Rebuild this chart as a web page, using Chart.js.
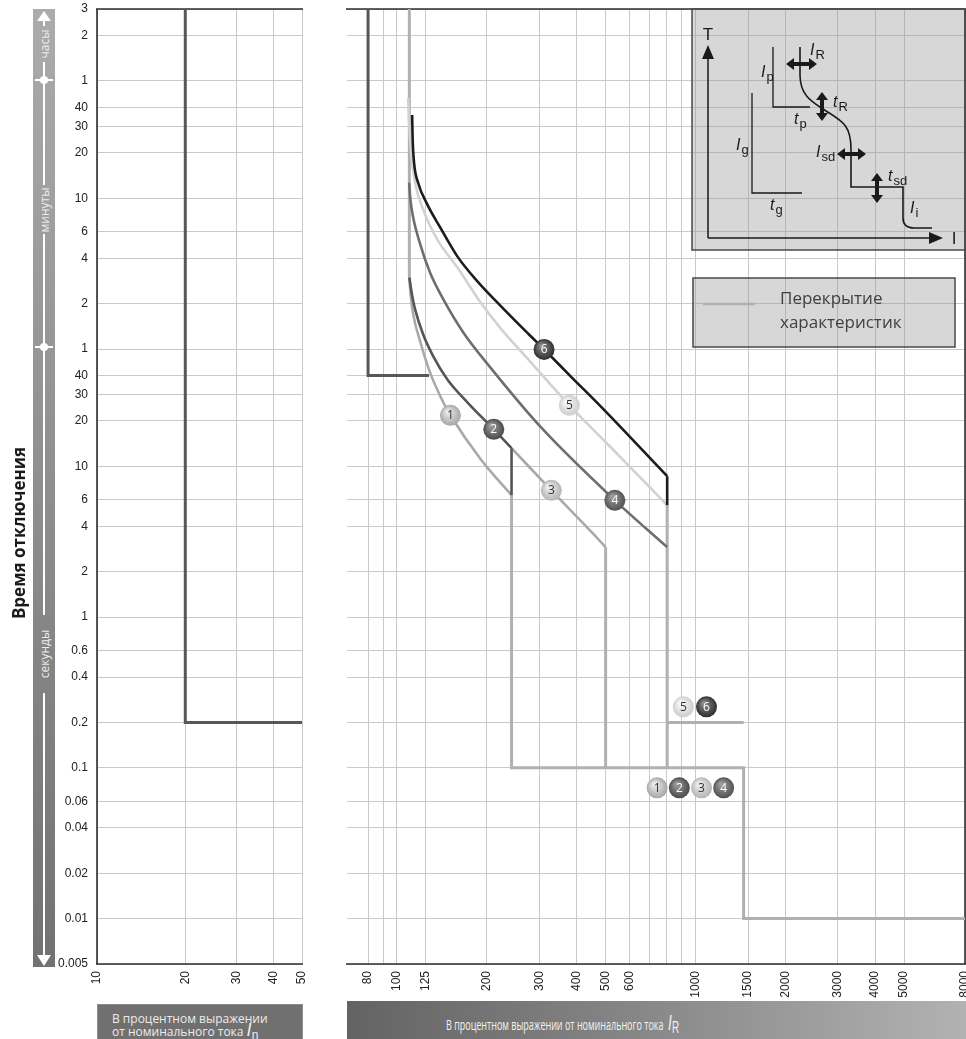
<!DOCTYPE html>
<html>
<head>
<meta charset="utf-8">
<script src="https://cdn.jsdelivr.net/npm/chart.js@4.4.1/dist/chart.umd.min.js"></script>
<style>
html, body { margin: 0; padding: 0; background: #fff; overflow: hidden; width: 966px; height: 1039px; }
#wrap { position: relative; width: 966px; height: 1039px; overflow: hidden; }
.box { position: absolute; top: 0; height: 1000px; }
#leftBox { left: 0; width: 310px; }
#rightBox { left: 310px; width: 670px; }
#band { position: absolute; left: 0; top: 0; }
#bannerLeft { position: absolute; left: 97px; top: 1004px; width: 206px; height: 40px; background: #707070; box-shadow: inset 0 0 0 1px #8c8c8c; }
#bannerLeft .txt { position: absolute; left: 15px; top: 8px; font: 12px/13px 'Open Sans', sans-serif; color: #ececec; white-space: nowrap; }
#bannerRight { position: absolute; left: 347px; top: 1001px; width: 619px; height: 42px; background: linear-gradient(90deg, #636363 0%, #858585 45%, #b2b2b2 100%); }
#bannerRight .txt { position: absolute; left: 99px; top: 15px; font: 14.5px/18px 'Open Sans', sans-serif; color: #f2f2f2; white-space: nowrap; transform: scaleX(0.62); transform-origin: 0 0; }
.sym i { font-family: 'Liberation Sans', Arial, sans-serif; font-size: 18px; line-height: 10px; }
.sym sub { font-family: 'Liberation Sans', Arial, sans-serif; font-size: 12px; line-height: 10px; vertical-align: -3px; }
#bannerRight .sym i { font-size: 22px; }
#bannerRight .sym sub { font-size: 16px; }
</style>
</head>
<body>
<div id="wrap">
  <div id="leftBox" class="box"><canvas id="leftChart"></canvas></div>
  <div id="rightBox" class="box"><canvas id="rightChart"></canvas></div>

  <svg id="band" width="97" height="1000">
    <defs>
      <linearGradient id="bandFill" x1="0" y1="0" x2="0" y2="1">
        <stop offset="0" stop-color="#ababab"/>
        <stop offset="1" stop-color="#727272"/>
      </linearGradient>
    </defs>
    <rect x="33" y="9" width="22" height="958" fill="url(#bandFill)"/>
    <g stroke="#fff" stroke-width="2">
      <line x1="44" y1="19" x2="44" y2="26"/>
      <line x1="44" y1="62" x2="44" y2="185"/>
      <line x1="44" y1="234" x2="44" y2="615"/>
      <line x1="44" y1="693" x2="44" y2="956"/>
      <line x1="35" y1="80" x2="53" y2="80"/>
      <line x1="35" y1="347" x2="53" y2="347"/>
    </g>
    <circle cx="44" cy="80" r="4" fill="#fff"/>
    <circle cx="44" cy="347" r="4" fill="#fff"/>
    <polygon points="44,11 37,21 51,21" fill="#fff"/>
    <polygon points="44,966 37,955 51,955" fill="#fff"/>
    <g font-family="Open Sans, sans-serif" font-size="12" fill="#ececec" text-anchor="middle" dominant-baseline="central">
      <text transform="translate(44,44) rotate(-90)">часы</text>
      <text transform="translate(44,210) rotate(-90)">минуты</text>
      <text transform="translate(44,654) rotate(-90)">секунды</text>
    </g>
    <text transform="translate(18,533) rotate(-90)" font-family="Open Sans, sans-serif" font-weight="bold" font-size="17" fill="#1a1a1a" text-anchor="middle" dominant-baseline="central">Время отключения</text>
  </svg>

  <div id="bannerLeft"><div class="txt">В процентном выражении<br>от номинального тока <span class="sym"><i>I</i><sub>n</sub></span></div></div>
  <div id="bannerRight"><div class="txt">В процентном выражении от номинального тока &nbsp;<span class="sym"><i>I</i><sub>R</sub></span></div></div>
</div>

<script>
// ---- axes ----
const timeTicks = [0.005, 0.01, 0.02, 0.04, 0.06, 0.1, 0.2, 0.4, 0.6, 1, 2, 4, 6, 10, 20, 30, 40,
  60, 120, 240, 360, 600, 1200, 1800, 2400, 3600, 7200, 10800];
const timeTickLabels = ['0.005', '0.01', '0.02', '0.04', '0.06', '0.1', '0.2', '0.4', '0.6', '1', '2', '4', '6', '10', '20', '30', '40',
  '1', '2', '4', '6', '10', '20', '30', '40', '1', '2', '3'];
const leftCurrentTicks = [10, 20, 30, 40, 50];
const rightCurrentTicks = [80, 90, 100, 125, 200, 300, 400, 500, 600, 700, 800, 900, 1000, 1500, 2000, 3000, 4000, 5000, 8000];
const rightCurrentLabels = ['80', '', '100', '125', '200', '300', '400', '500', '600', '', '', '', '1000', '1500', '2000', '3000', '4000', '5000', '8000'];

// ---- left panel (% of In, seconds) ----
const groundI = [20, 20, 50];
const groundT = [10800, 0.2, 0.2];

// ---- right panel (% of IR, seconds) ----
const pickupI = [80, 80, 128];
const pickupT = [10800, 40, 40];

const overlapTopI = [110, 110];
const overlapTopT = [10800, 179];

const curve1I = [110, 111, 113, 120, 129, 143, 151, 191, 242];
const curve1T = [179, 140, 105, 66, 42, 26.5, 21.8, 11.1, 6.43];
const curve2I = [110, 112.4, 115, 122.4, 132.3, 147.5, 172.4, 211, 242];
const curve2T = [179, 135.6, 110, 74.8, 53.6, 37.7, 26.5, 17.6, 13.2];
const curve2DropI = [242, 242];
const curve2DropT = [13.2, 6.43];
const curve3I = [242, 329, 449, 500];
const curve3T = [13.2, 6.93, 3.66, 2.91];
const curve4I = [109.8, 111, 113, 120, 129, 143, 167, 206, 304, 537, 804];
const curve4T = [760, 580, 460, 291, 193, 128, 77, 45, 18.1, 5.95, 2.91];
const curve5I = [109, 109.8, 111.5, 115, 122.4, 136.5, 159.5, 190.7, 222.8, 281.4, 378.2, 512.2, 804];
const curve5T = [2780, 1897, 1200, 760, 504, 319, 208, 122, 82, 48.8, 25.4, 13.8, 5.52];
const curve6I = [112.4, 112.8, 114.1, 117.7, 126.3, 139.7, 159.5, 186.3, 222.8, 274.9, 311.3, 384, 485, 804];
const curve6T = [2140, 1510, 1030, 760, 546, 383, 246, 168, 115.6, 76, 59.6, 39.1, 24.6, 8.6];
const curve6DropI = [804, 804];
const curve6DropT = [8.6, 5.52];

const overlapStepAI = [242, 242, 1450, 1450, 8000];
const overlapStepAT = [6.43, 0.1, 0.1, 0.01, 0.01];
const overlapStepBI = [500, 500];
const overlapStepBT = [2.91, 0.1];
const overlapStepCI = [804, 804];
const overlapStepCT = [5.52, 0.1];
const overlapStepDI = [804, 1450];
const overlapStepDT = [0.2, 0.2];

// numbered markers
const bubbleNum = ['1', '2', '3', '4', '5', '6', '5', '6', '1', '2', '3', '4'];
const bubbleI = [151, 211, 329, 537, 378, 311, 911, 1089, 744, 883, 1048, 1243];
const bubbleT = [21.8, 17.6, 6.93, 5.95, 25.4, 59.6, 0.254, 0.254, 0.0737, 0.0737, 0.0737, 0.0737];

const pts = (xs, ys) => xs.map((x, i) => ({ x, y: ys[i] }));

const GRID = '#c9c9c9';
const OVERLAP = '#b0b0b0';
const tickFont = { family: "'Liberation Sans', Arial, sans-serif", size: 12 };

function noPad(s) {
  s.paddingLeft = 0; s.paddingRight = 0; s.paddingTop = 0; s.paddingBottom = 0;
}

function timeAxis(showLabels) {
  return {
    type: 'logarithmic',
    min: 0.005,
    max: 10800,
    afterBuildTicks: s => { s.ticks = timeTicks.map(v => ({ value: v })); },
    afterFit: s => { s.width = showLabels ? 97 : 0; noPad(s); },
    grid: { color: GRID, lineWidth: 1, drawTicks: false },
    border: { display: false },
    ticks: {
      display: showLabels, autoSkip: false, padding: 9, color: '#222', font: tickFont,
      callback: (v, i) => timeTickLabels[i]
    }
  };
}

function currentAxis(min, max, values, labels) {
  return {
    type: 'logarithmic',
    min, max,
    afterBuildTicks: s => { s.ticks = values.map(v => ({ value: v })); },
    afterFit: s => { s.height = 36; noPad(s); },
    grid: { color: GRID, lineWidth: 1, drawTicks: false },
    border: { display: false },
    ticks: {
      autoSkip: false, minRotation: 90, maxRotation: 90, padding: 7, color: '#222', font: tickFont,
      callback: (v, i) => labels[i]
    }
  };
}

function lineSet(xs, ys, color, width, smooth) {
  const ds = {
    data: pts(xs, ys), showLine: true, borderColor: color, borderWidth: width,
    pointRadius: 0, tension: 0, fill: false, borderCapStyle: 'butt', borderJoinStyle: 'miter'
  };
  if (smooth) { ds.tension = 0.4; ds.cubicInterpolationMode = 'monotone'; ds.borderJoinStyle = 'round'; }
  return ds;
}

// frame lines on the plot edges
const framePlugin = {
  id: 'frame',
  beforeDatasetsDraw(chart, args, opts) {
    const { ctx, chartArea: a } = chart;
    ctx.save();
    ctx.strokeStyle = '#2e2e2e';
    ctx.lineWidth = 1.6;
    ctx.beginPath();
    if (opts.top) { ctx.moveTo(a.left - 1, a.top); ctx.lineTo(a.right + 1, a.top); }
    if (opts.bottom) { ctx.moveTo(a.left - 1, a.bottom); ctx.lineTo(a.right + 1, a.bottom); }
    if (opts.left) { ctx.moveTo(a.left, a.top); ctx.lineTo(a.left, a.bottom); }
    if (opts.right) { ctx.moveTo(a.right, a.top); ctx.lineTo(a.right, a.bottom); }
    ctx.stroke();
    ctx.restore();
  }
};

const bubbleShades = {
  '1': ['#ececec', '#a6a6a6', '#333'],
  '2': ['#9c9c9c', '#4a4a4a', '#fff'],
  '3': ['#f0f0f0', '#b4b4b4', '#333'],
  '4': ['#9c9c9c', '#525252', '#fff'],
  '5': ['#fafafa', '#cdcdcd', '#333'],
  '6': ['#8c8c8c', '#2e2e2e', '#fff']
};

const bubblePlugin = {
  id: 'bubbles',
  afterDatasetsDraw(chart) {
    const { ctx, scales } = chart;
    ctx.save();
    ctx.font = "12px 'Open Sans', sans-serif";
    ctx.textAlign = 'center';
    ctx.textBaseline = 'middle';
    bubbleNum.forEach((n, i) => {
      const x = scales.x.getPixelForValue(bubbleI[i]);
      const y = scales.y.getPixelForValue(bubbleT[i]);
      const sh = bubbleShades[n];
      const g = ctx.createRadialGradient(x - 3, y - 4, 1, x, y, 10.5);
      g.addColorStop(0, sh[0]);
      g.addColorStop(1, sh[1]);
      ctx.fillStyle = g;
      ctx.beginPath();
      ctx.arc(x, y, 10.5, 0, Math.PI * 2);
      ctx.fill();
      ctx.fillStyle = sh[2];
      ctx.fillText(n, x, y + 0.5);
    });
    ctx.restore();
  }
};

// schematic inset + overlap legend (top right)
function subLabel(ctx, x, y, main, sub) {
  ctx.font = "italic 16px 'Liberation Sans', Arial, sans-serif";
  ctx.fillText(main, x, y);
  const w = ctx.measureText(main).width;
  ctx.font = "13px 'Liberation Sans', Arial, sans-serif";
  ctx.fillText(sub, x + w + 1, y + 4);
}

function dblArrow(ctx, x1, y1, x2, y2) {
  const horiz = y1 === y2;
  const h = 8, hw = 6;
  ctx.lineWidth = 4;
  ctx.beginPath();
  if (horiz) { ctx.moveTo(x1 + h - 1, y1); ctx.lineTo(x2 - h + 1, y2); }
  else { ctx.moveTo(x1, y1 + h - 1); ctx.lineTo(x2, y2 - h + 1); }
  ctx.stroke();
  ctx.beginPath();
  if (horiz) {
    ctx.moveTo(x1, y1); ctx.lineTo(x1 + h, y1 - hw); ctx.lineTo(x1 + h, y1 + hw); ctx.closePath();
    ctx.moveTo(x2, y2); ctx.lineTo(x2 - h, y2 - hw); ctx.lineTo(x2 - h, y2 + hw); ctx.closePath();
  } else {
    ctx.moveTo(x1, y1); ctx.lineTo(x1 - hw, y1 + h); ctx.lineTo(x1 + hw, y1 + h); ctx.closePath();
    ctx.moveTo(x2, y2); ctx.lineTo(x2 - hw, y2 - h); ctx.lineTo(x2 + hw, y2 - h); ctx.closePath();
  }
  ctx.fill();
}

const insetPlugin = {
  id: 'inset',
  afterDatasetsDraw(chart) {
    const { ctx, chartArea: a } = chart;
    const ox = a.right - 273, oy = a.top;
    ctx.save();
    ctx.fillStyle = 'rgba(150,150,150,0.38)';
    ctx.fillRect(ox, oy, 273, 241);
    ctx.strokeStyle = '#4a4a4a';
    ctx.lineWidth = 1.5;
    ctx.strokeRect(ox, oy, 273, 241);

    ctx.translate(ox, oy);
    ctx.strokeStyle = '#1a1a1a';
    ctx.fillStyle = '#1a1a1a';
    ctx.lineWidth = 1.5;
    // axes
    ctx.beginPath();
    ctx.moveTo(16, 229); ctx.lineTo(16, 48);
    ctx.moveTo(16, 229); ctx.lineTo(239, 229);
    ctx.stroke();
    ctx.beginPath();
    ctx.moveTo(16, 36); ctx.lineTo(10, 50); ctx.lineTo(22, 50); ctx.closePath();
    ctx.moveTo(251, 229); ctx.lineTo(237, 223); ctx.lineTo(237, 235); ctx.closePath();
    ctx.fill();
    ctx.font = "17px 'Liberation Sans', Arial, sans-serif";
    ctx.textAlign = 'center';
    ctx.textBaseline = 'middle';
    ctx.fillText('T', 16, 26);
    ctx.fillText('I', 262, 230);

    // Ig / tg and Ip / tp
    ctx.lineWidth = 1.3;
    ctx.beginPath();
    ctx.moveTo(60, 84); ctx.lineTo(60, 184); ctx.lineTo(110, 184);
    ctx.moveTo(81, 38); ctx.lineTo(81, 98); ctx.lineTo(118, 98);
    ctx.stroke();

    // main characteristic
    ctx.lineWidth = 1.6;
    ctx.beginPath();
    ctx.moveTo(108, 38);
    ctx.lineTo(108, 66);
    ctx.bezierCurveTo(108, 88, 122, 94, 134, 102);
    ctx.bezierCurveTo(150, 112, 159, 116, 159, 140);
    ctx.lineTo(159, 178);
    ctx.lineTo(211, 178);
    ctx.lineTo(211, 209);
    ctx.quadraticCurveTo(211, 219, 222, 219);
    ctx.lineTo(240, 219);
    ctx.stroke();

    // adjustment arrows
    dblArrow(ctx, 94, 55, 125, 55);
    dblArrow(ctx, 130, 83, 130, 112);
    dblArrow(ctx, 145, 145, 174, 145);
    dblArrow(ctx, 185, 164, 185, 194);

    ctx.textAlign = 'left';
    subLabel(ctx, 118, 42, 'I', 'R');
    subLabel(ctx, 141, 94, 't', 'R');
    subLabel(ctx, 124, 144, 'I', 'sd');
    subLabel(ctx, 196, 168, 't', 'sd');
    subLabel(ctx, 218, 200, 'I', 'i');
    subLabel(ctx, 69, 64, 'I', 'p');
    subLabel(ctx, 102, 111, 't', 'p');
    subLabel(ctx, 44, 137, 'I', 'g');
    subLabel(ctx, 78, 197, 't', 'g');
    ctx.restore();

    // overlap legend box
    const lx = a.right - 272, ly = a.top + 269;
    ctx.save();
    ctx.fillStyle = 'rgba(150,150,150,0.38)';
    ctx.fillRect(lx, ly, 262, 69);
    ctx.strokeStyle = '#4a4a4a';
    ctx.lineWidth = 1.5;
    ctx.strokeRect(lx, ly, 262, 69);
    ctx.strokeStyle = OVERLAP;
    ctx.lineWidth = 2.5;
    ctx.beginPath();
    ctx.moveTo(lx + 10, ly + 26);
    ctx.lineTo(lx + 62, ly + 26);
    ctx.stroke();
    ctx.fillStyle = '#404040';
    ctx.font = "17px 'Open Sans', sans-serif";
    ctx.textBaseline = 'middle';
    ctx.fillText('Перекрытие', lx + 87, ly + 21);
    ctx.fillText('характеристик', lx + 87, ly + 45);
    ctx.restore();
  }
};

Chart.defaults.animation = false;
Chart.defaults.devicePixelRatio = 1;

// left chart: ground-fault style setting
new Chart(document.getElementById('leftChart'), {
  type: 'scatter',
  data: { datasets: [lineSet(groundI, groundT, '#575757', 3)] },
  options: {
    responsive: true,
    maintainAspectRatio: false,
    layout: { padding: { top: 9, right: 8, left: 0, bottom: 0 } },
    plugins: { legend: { display: false }, tooltip: { enabled: false }, frame: { top: true, left: true, bottom: true } },
    scales: {
      x: currentAxis(10, 50, leftCurrentTicks, leftCurrentTicks.map(String)),
      y: timeAxis(true)
    }
  },
  plugins: [framePlugin]
});

// right chart: long-time / short-time / instantaneous curves
new Chart(document.getElementById('rightChart'), {
  type: 'scatter',
  data: {
    datasets: [
      lineSet(curve6I, curve6T, '#1c1c1c', 2.6, true),
      lineSet(curve6DropI, curve6DropT, '#1c1c1c', 2.6),
      lineSet(curve2DropI, curve2DropT, '#555555', 2.6),
      lineSet(curve2I, curve2T, '#555555', 2.6, true),
      lineSet(curve4I, curve4T, '#6e6e6e', 2.6, true),
      lineSet(curve5I, curve5T, '#d2d2d2', 2.6, true),
      lineSet(curve1I, curve1T, '#a9a9a9', 2.6, true),
      lineSet(curve3I, curve3T, '#a9a9a9', 2.6, true),
      lineSet(overlapTopI, overlapTopT, OVERLAP, 3),
      lineSet(overlapStepAI, overlapStepAT, OVERLAP, 3),
      lineSet(overlapStepBI, overlapStepBT, OVERLAP, 3),
      lineSet(overlapStepCI, overlapStepCT, OVERLAP, 3),
      lineSet(overlapStepDI, overlapStepDT, OVERLAP, 3),
      lineSet(pickupI, pickupT, '#575757', 3)
    ]
  },
  options: {
    responsive: true,
    maintainAspectRatio: false,
    layout: { padding: { top: 9, right: 15, left: 37, bottom: 0 } },
    plugins: { legend: { display: false }, tooltip: { enabled: false }, frame: { top: true, right: true, bottom: true } },
    scales: {
      x: currentAxis(68, 8000, rightCurrentTicks, rightCurrentLabels),
      y: timeAxis(false)
    }
  },
  plugins: [framePlugin, bubblePlugin, insetPlugin]
});
</script>
</body>
</html>
